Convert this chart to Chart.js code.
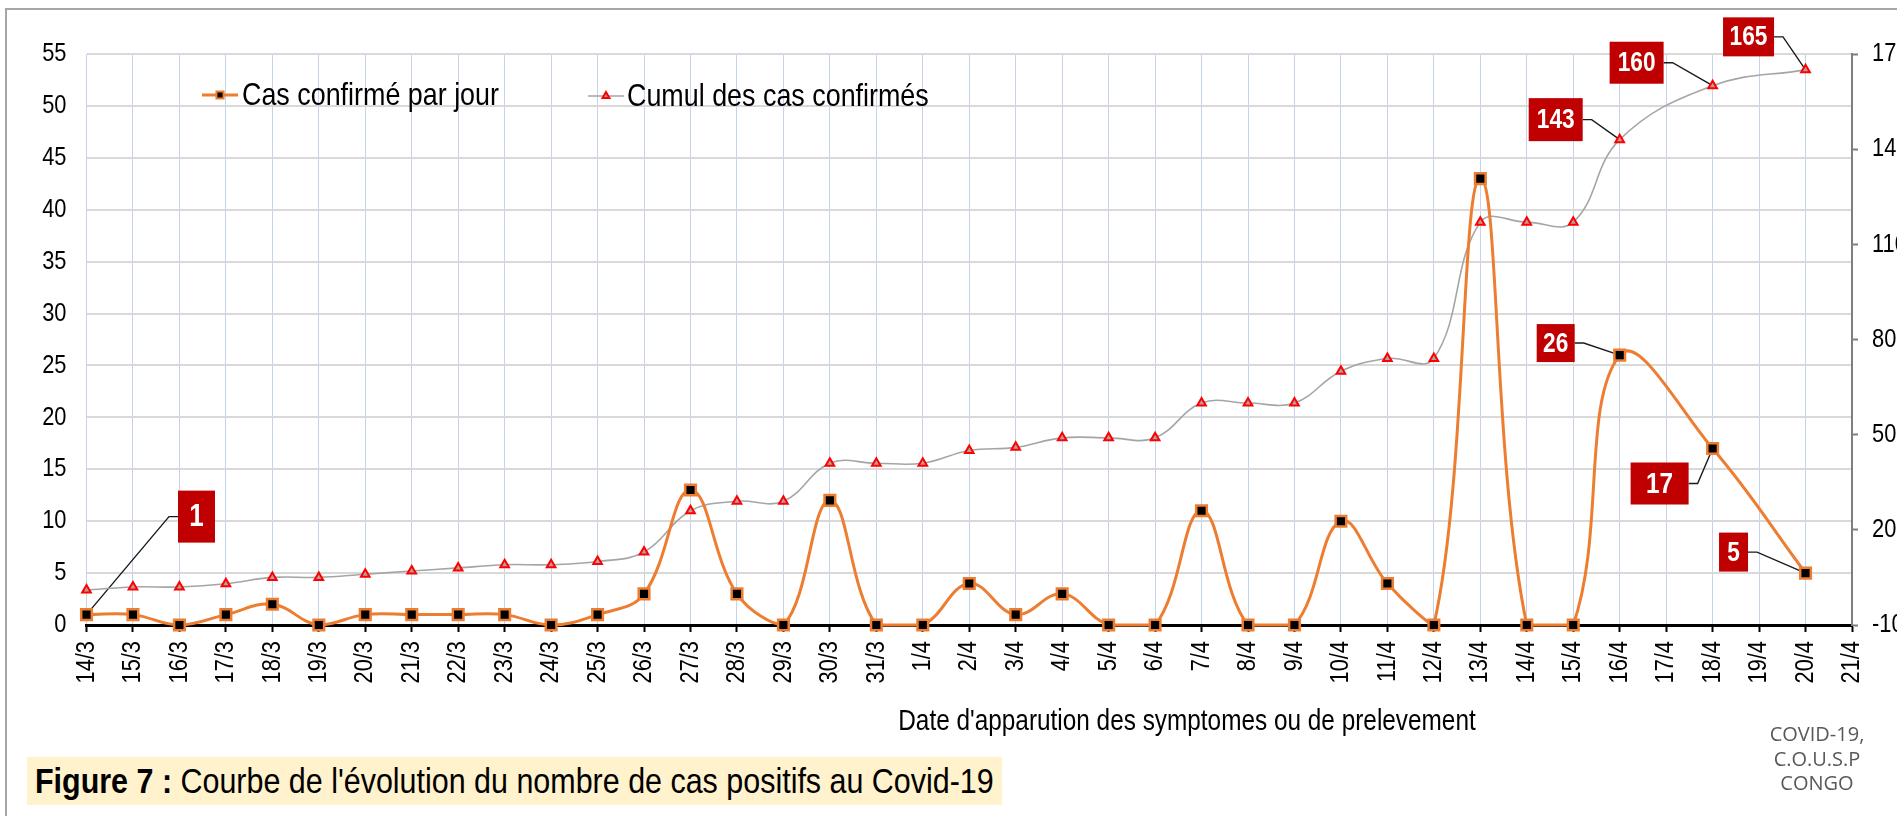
<!DOCTYPE html>
<html><head><meta charset="utf-8">
<script src="https://cdn.jsdelivr.net/npm/chart.js@4.4.1/dist/chart.umd.min.js"></script>
<style>
html,body{margin:0;padding:0;background:#fff;overflow:hidden;width:1897px;height:816px;}
#frame{position:absolute;left:5px;top:8px;width:1950px;height:900px;border:2px solid #A6A6A6;box-sizing:border-box;}
#wrap{position:absolute;left:0;top:0;width:1897px;height:816px;}
#caption{position:absolute;left:27px;top:757px;width:975px;height:48px;background:#FFF2CC;font-family:'Liberation Sans',Arial,sans-serif;font-size:35px;line-height:48px;color:#000;padding-left:8px;box-sizing:border-box;white-space:nowrap;overflow:hidden;}
#caption span{display:inline-block;transform:scaleX(0.87);transform-origin:left center;}
#source{position:absolute;left:1757px;top:722px;width:120px;text-align:center;font-family:'Open Sans',sans-serif;font-size:20px;line-height:24.5px;color:#595959;}
</style></head>
<body>
<div id="frame"></div>
<div id="wrap"><canvas id="c" width="1897" height="816"></canvas></div>
<div id="caption"><span><b>Figure 7 :</b> Courbe de l'évolution du nombre de cas positifs au Covid-19</span></div>
<div id="source">COVID-19,<br>C.O.U.S.P<br>CONGO</div>
<script>
const dates = ['14/3','15/3','16/3','17/3','18/3','19/3','20/3','21/3','22/3','23/3','24/3','25/3','26/3','27/3','28/3','29/3','30/3','31/3',
  '1/4','2/4','3/4','4/4','5/4','6/4','7/4','8/4','9/4','10/4','11/4','12/4','13/4','14/4','15/4','16/4','17/4','18/4','19/4','20/4','21/4'];
const dailyCases = [1,1,0,1,2,0,1,1,1,1,0,1,3,13,3,0,12,0,
  0,4,1,3,0,0,11,0,0,10,4,0,43,0,0,26,null,17,null,5,null];
const cumulativeCases = [1,2,2,3,5,5,6,7,8,9,9,10,13,26,29,29,41,41,
  41,45,46,49,49,49,60,60,60,70,74,74,117,117,117,143,null,160,null,165,null];
const seriesNames = ['Cas confirmé par jour','Cumul des cas confirmés'];
const xTitle = "Date d'apparution des symptomes ou de prelevement";

const FONT = "'Liberation Sans',Arial,sans-serif";
const CONDENSE = 0.84;

// callout label styling (value text comes from the data)
const callouts = [
  {ds:0, idx:0,  dx:110,  dy:-98, w:37, h:52, side:'left',  size:31},
  {ds:1, idx:37, dx:-57,  dy:-33, w:51, h:39, side:'right', size:27},
  {ds:1, idx:35, dx:-76,  dy:-23, w:54, h:42, side:'right', size:27},
  {ds:1, idx:33, dx:-64,  dy:-20, w:54, h:43, side:'right', size:27},
  {ds:0, idx:33, dx:-64,  dy:-12, w:38, h:38, side:'right', size:27},
  {ds:0, idx:35, dx:-53,  dy:35,  w:58, h:42, side:'right', size:29},
  {ds:0, idx:37, dx:-72,  dy:-21, w:29, h:39, side:'right', size:27}
];

const canvas = document.getElementById('c');
const ctx0 = canvas.getContext('2d');
const origFillText = ctx0.fillText;
ctx0.fillText = function(text, x, y, maxWidth) {
  this.save();
  this.translate(x, y);
  this.scale(CONDENSE, 1);
  origFillText.call(this, text, 0, 0);
  this.restore();
};

const calloutPlugin = {
  id: 'callouts',
  beforeDatasetsDraw(chart) {
    const ctx = chart.ctx;
    callouts.forEach(c => {
      const el = chart.getDatasetMeta(c.ds).data[c.idx];
      const px = el.x, py = el.y, cx = px + c.dx, cy = py + c.dy;
      const ex = c.side === 'left' ? cx - c.w/2 : cx + c.w/2;
      const kx = c.side === 'left' ? ex - 9 : ex + 9;
      ctx.save();
      ctx.strokeStyle = '#1a1a1a'; ctx.lineWidth = 1.4;
      ctx.beginPath(); ctx.moveTo(ex, cy); ctx.lineTo(kx, cy); ctx.lineTo(px, py); ctx.stroke();
      ctx.restore();
    });
  },
  afterDatasetsDraw(chart) {
    const ctx = chart.ctx;
    callouts.forEach(c => {
      const el = chart.getDatasetMeta(c.ds).data[c.idx];
      const cx = el.x + c.dx, cy = el.y + c.dy;
      const value = chart.data.datasets[c.ds].data[c.idx];
      ctx.save();
      ctx.fillStyle = '#C00000';
      ctx.fillRect(cx - c.w/2, cy - c.h/2, c.w, c.h);
      ctx.fillStyle = '#ffffff';
      ctx.font = 'bold ' + c.size + 'px ' + FONT;
      ctx.textAlign = 'center'; ctx.textBaseline = 'middle';
      ctx.fillText(String(value), cx, cy + 1);
      ctx.restore();
    });
  }
};

const legendItems = [
  {ds:0, lineX:202, lineW:36, y:95, textX:242, r:5},
  {ds:1, lineX:588, lineW:36, y:96, textX:627, r:4}
];
const legendPlugin = {
  id: 'customLegend',
  afterDraw(chart) {
    const ctx = chart.ctx;
    legendItems.forEach(it => {
      const d = chart.data.datasets[it.ds];
      ctx.save();
      ctx.strokeStyle = d.borderColor; ctx.lineWidth = d.borderWidth;
      ctx.beginPath(); ctx.moveTo(it.lineX, it.y); ctx.lineTo(it.lineX + it.lineW, it.y); ctx.stroke();
      ctx.fillStyle = d.pointBackgroundColor; ctx.strokeStyle = d.pointBorderColor; ctx.lineWidth = 2;
      Chart.helpers.drawPoint(ctx, {pointStyle: d.pointStyle, radius: it.r, borderWidth: 2, rotation: 0}, it.lineX + it.lineW/2, it.y);
      ctx.fillStyle = '#000'; ctx.font = '32px ' + FONT;
      ctx.textAlign = 'left'; ctx.textBaseline = 'middle';
      ctx.fillText(d.label, it.textX, it.y + 1);
      ctx.restore();
    });
    // x axis title
    ctx.save();
    ctx.fillStyle = '#000'; ctx.font = '29px ' + FONT;
    ctx.textAlign = 'center'; ctx.textBaseline = 'middle';
    ctx.fillText(xTitle, 1187, 722);
    ctx.restore();
  }
};

new Chart(canvas, {
  type: 'line',
  data: {
    labels: dates,
    datasets: [
      {
        label: seriesNames[0], data: dailyCases, yAxisID: 'y',
        borderColor: '#ED7D31', borderWidth: 3, tension: 0.4, spanGaps: true,
        pointStyle: 'rect', pointRadius: 7.5, pointBorderWidth: 2.5,
        pointBackgroundColor: '#000000', pointBorderColor: '#ED7D31', clip: false, order: 0
      },
      {
        label: seriesNames[1], data: cumulativeCases, yAxisID: 'y1',
        borderColor: '#A5A5A5', borderWidth: 1.6, tension: 0.4, spanGaps: true,
        pointStyle: 'triangle', pointRadius: 5, pointBorderWidth: 2,
        pointBackgroundColor: '#B0A0A0', pointBorderColor: '#FF0000', clip: false, order: 1
      }
    ]
  },
  options: {
    responsive: false, animation: false, devicePixelRatio: 1,
    layout: {padding: {top: 54, left: 0, right: 0, bottom: 71}},
    plugins: {legend: {display: false}, tooltip: {enabled: false}},
    elements: {line: {capBezierPoints: true}},
    scales: {
      x: {
        ticks: {autoSkip: false, maxRotation: 90, minRotation: 90, color: '#000', font: {family: FONT, size: 26}, padding: 9},
        grid: {color: '#C5D3EE', lineWidth: 1, tickColor: '#000', tickLength: 7, tickWidth: 2},
        border: {display: true, color: '#000', width: 3},
        afterFit: s => { s.height = 120; }
      },
      y: {
        position: 'left', min: 0, max: 55,
        ticks: {stepSize: 5, color: '#000', font: {family: FONT, size: 26}, padding: 20},
        grid: {color: '#D9D9D9', lineWidth: 2, drawTicks: false},
        border: {display: false},
        afterFit: s => { s.width = 86.5; }
      },
      y1: {
        position: 'right', min: -10, max: 170,
        ticks: {stepSize: 30, color: '#000', font: {family: FONT, size: 26}, padding: 14},
        grid: {drawOnChartArea: false, tickLength: 6, tickColor: '#7F7F7F', tickWidth: 2},
        border: {display: true, color: '#7F7F7F', width: 2},
        afterFit: s => { s.width = 45; }
      }
    }
  },
  plugins: [calloutPlugin, legendPlugin]
});
</script>
</body></html>
